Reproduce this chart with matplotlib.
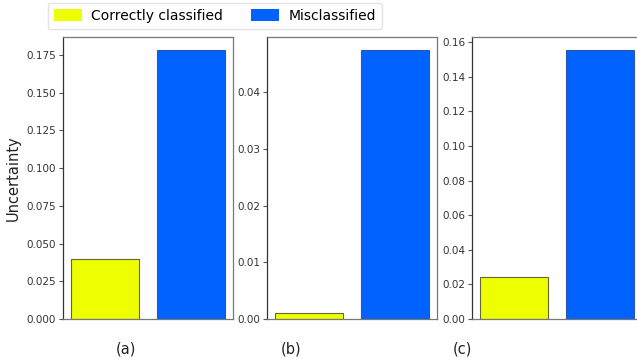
import numpy as np
import matplotlib.pyplot as plt
from matplotlib.patches import Patch

# data
panels = ["(a)", "(b)", "(c)"]
correct = [0.0396, 0.0010, 0.0241]
misclassified = [0.1783, 0.0475, 0.1554]
ylims = [0.187, 0.0498, 0.1629]
yticks = [np.arange(0, 0.176, 0.025), np.arange(0, 0.041, 0.01), np.arange(0, 0.161, 0.02)]
yfmt = ["{:.3f}", "{:.2f}", "{:.2f}"]

yellow = "#eeff00"
blue = "#0062ff"

W, H = 637, 360
fig = plt.figure(figsize=(W / 100, H / 100), dpi=100)

lefts = [63, 267, 472]
label_x = [126, 291, 462]
bottom, top = 319, 37

for i in range(3):
    ax = fig.add_axes([lefts[i] / W, 1 - bottom / H, 170 / W, (bottom - top) / H])
    ax.bar([0, 1], [correct[i], misclassified[i]], width=0.8,
           color=[yellow, blue], edgecolor=["#666633", "#3355aa"], linewidth=0.8)
    ax.set_ylim(0, ylims[i])
    ax.set_yticks(yticks[i])
    ax.set_yticklabels([yfmt[i].format(v) for v in yticks[i]], fontsize=7.5, color="#333333")
    ax.set_xticks([])
    ax.tick_params(axis="y", length=3, width=0.8, color="#555555", pad=2)
    for s in ax.spines.values():
        s.set_color("#777777")
        s.set_linewidth(0.9)
    ax.spines["left"].set_color("#333333")
    if i == 0:
        ax.set_ylabel("Uncertainty", fontsize=10.5, color="#222222", labelpad=4)
    fig.text(label_x[i] / W, 1 - 349 / H, panels[i], ha="center", va="center",
             fontsize=10.5, color="#222222")

handles = [Patch(facecolor=yellow, label="Correctly classified"),
           Patch(facecolor=blue, label="Misclassified")]
fig.legend(handles=handles, loc="center", bbox_to_anchor=(215 / W, 1 - 16 / H),
           ncol=2, fontsize=10, frameon=True, edgecolor="#dddddd", fancybox=True,
           handlelength=2.0, handleheight=0.9, handletextpad=0.7, columnspacing=2.0,
           borderpad=0.45)

fig.savefig("out.png", dpi=100)
